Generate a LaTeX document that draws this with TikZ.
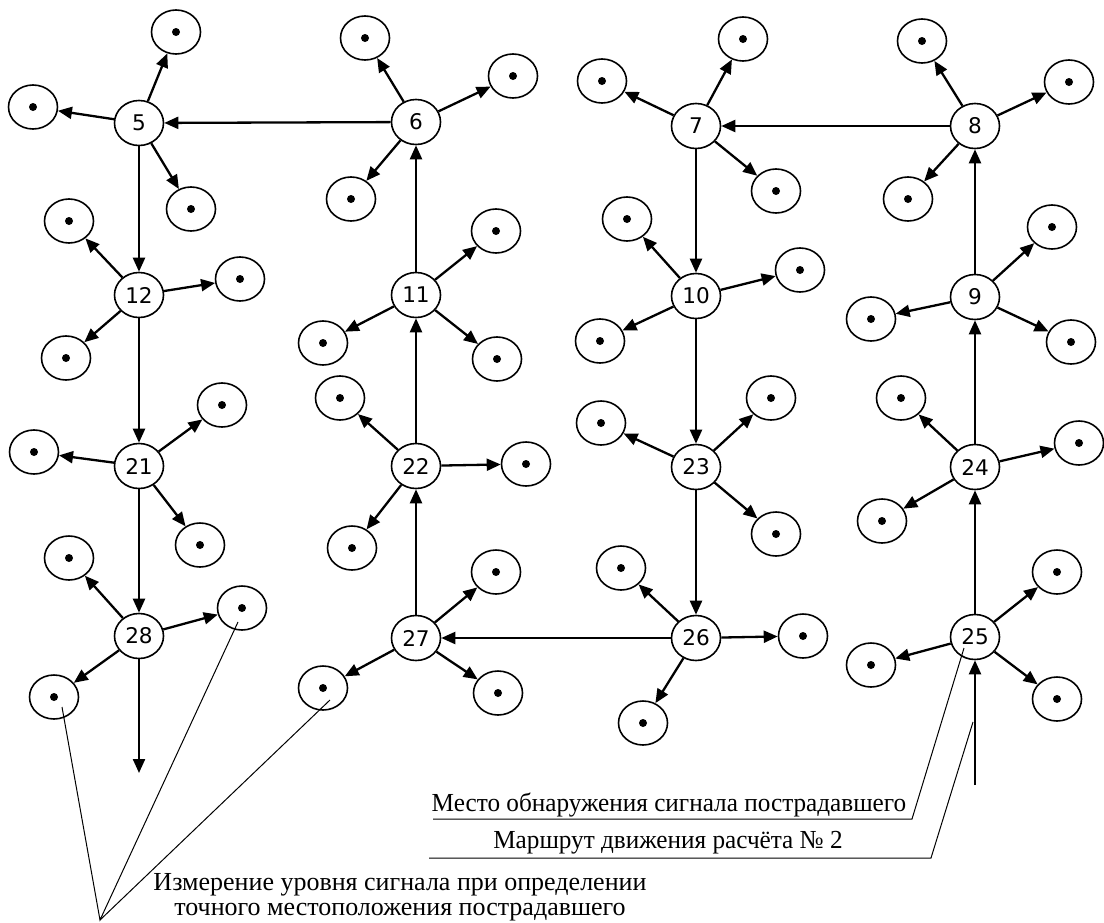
\documentclass[tikz,border=0pt]{standalone}
\usepackage{fontspec}
\setmainfont{Liberation Serif}
\newfontfamily\numfont{DejaVu Sans}
\newfontfamily\capfont[FakeStretch=0.97]{Liberation Serif}
\usetikzlibrary{arrows.meta,shapes.geometric}
\begin{document}
\begin{tikzpicture}[x=0.5pt,y=-0.5pt,
  hub/.style={ellipse,draw,line width=0.8pt,fill=white,minimum width=24.5pt,
    minimum height=22.5pt,inner sep=0pt,font=\numfont\fontsize{10.8}{12}\selectfont},
  probe/.style={ellipse,draw,line width=0.8pt,minimum width=24.5pt,
    minimum height=22pt,inner sep=0pt,
    path picture={\fill (path picture bounding box.center) circle (2pt);}},
  route/.style={line width=1.15pt,-{Triangle[length=7pt,width=6pt]}},
  lead/.style={line width=0.5pt},
  caption/.style={font=\capfont\fontsize{13}{12.5}\selectfont,inner sep=0pt},
  note/.style={font=\fontsize{13}{12.5}\selectfont,inner sep=0pt,align=center},
]
\useasboundingbox (0,0) rectangle (1104,922);

% search points (hubs)
\node[hub] (h5)  at (139,123) {5};
\node[hub] (h6)  at (416,122) {6};
\node[hub] (h7)  at (696,126) {7};
\node[hub] (h8)  at (975,126) {8};
\node[hub] (h12) at (139,295) {12};
\node[hub] (h11) at (416,295) {11};
\node[hub] (h10) at (696,296) {10};
\node[hub] (h9)  at (975,297) {9};
\node[hub] (h21) at (139,466) {21};
\node[hub] (h22) at (416,466) {22};
\node[hub] (h23) at (696,467) {23};
\node[hub] (h24) at (975,467) {24};
\node[hub] (h28) at (139,636) {28};
\node[hub] (h27) at (416,638) {27};
\node[hub] (h26) at (696,638) {26};
\node[hub] (h25) at (975,637) {25};

% measuring points around each hub
\foreach \h/\ax/\ay/\bx/\by/\cx/\cy in {
   5/176/32/33/107/191/209,
   6/365/38/513/76/351/199,
   7/743/39/602/81/776/191,
   8/922/41/1069/82/908/199,
  12/69/221/240/279/66/358,
  11/496/231/323/343/497/359,
  10/627/219/800/270/600/341,
   9/1052/227/871/319/1071/342,
  21/222/405/34/452/200/545,
  22/340/398/526/464/352/548,
  23/601/423/771/398/776/534,
  24/901/398/1079/443/882/521,
  28/69/558/242/608/54/697,
  27/496/572/323/688/498/693,
  26/621/568/803/636/643/723,
  25/1057/572/871/665/1057/699}{
  \node[probe] (s\h a) at (\ax,\ay) {};
  \node[probe] (s\h b) at (\bx,\by) {};
  \node[probe] (s\h c) at (\cx,\cy) {};
  \draw[route] (h\h) -- (s\h a);
  \draw[route] (h\h) -- (s\h b);
  \draw[route] (h\h) -- (s\h c);
}

% route of crew No. 2
\coordinate (start) at (975,785);
\coordinate (finish) at (139,773);
\draw[route] (start) -- (h25);
\draw[route] (h25) -- (h24);
\draw[route] (h24) -- (h9);
\draw[route] (h9) -- (h8);
\draw[route] (h8) -- (h7);
\draw[route] (h7) -- (h10);
\draw[route] (h10) -- (h23);
\draw[route] (h23) -- (h26);
\draw[route] (h26) -- (h27);
\draw[route] (h27) -- (h22);
\draw[route] (h22) -- (h11);
\draw[route] (h11) -- (h6);
\draw[route] (h6) -- (h5);
\draw[route] (h5) -- (h12);
\draw[route] (h12) -- (h21);
\draw[route] (h21) -- (h28);
\draw[route] (h28) -- (finish);

% callouts
\node[caption] (t1) at (669,805) {Место обнаружения сигнала пострадавшего};
\node[caption] (t2) at (668,843) {Маршрут движения расчёта №~2};
\node[note] (t3) at (400,897)
  {Измерение уровня сигнала при определении\\точного местоположения пострадавшего};

\coordinate (u1a) at (433,819);
\coordinate (u1b) at (912,819);
\coordinate (p1) at (964,648);
\draw[lead] (u1a) -- (u1b) -- (p1);

\coordinate (u2a) at (429,858);
\coordinate (u2b) at (931,858);
\coordinate (p2) at (973,722);
\draw[lead] (u2a) -- (u2b) -- (p2);

\coordinate (fan) at (100,920);
\coordinate (m1) at (62,707);
\coordinate (m2) at (238,622);
\coordinate (m3) at (330,700);
\draw[lead] (m1) -- (fan) -- (m2);
\draw[lead] (fan) -- (m3);
\end{tikzpicture}
\end{document}
